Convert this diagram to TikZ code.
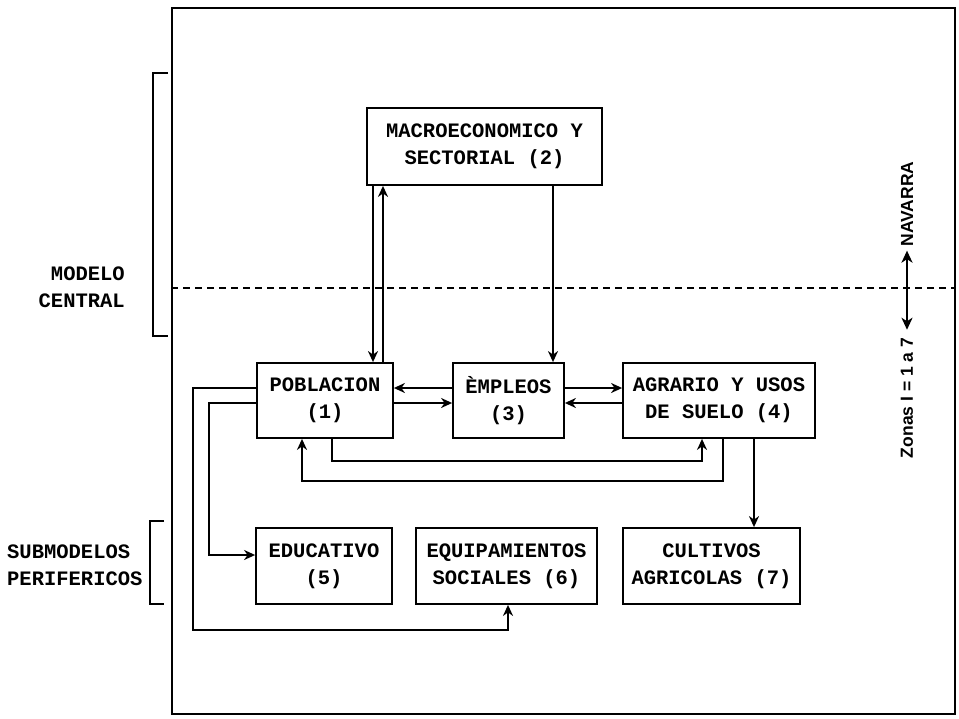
\documentclass[tikz,border=0pt]{standalone}
\usepackage{fontspec}
\newfontfamily\typew{Liberation Mono}
\newfontfamily\sanslab{Liberation Sans}
\usetikzlibrary{arrows.meta}
\begin{document}
\begin{tikzpicture}[x=1pt,y=-1pt,
  every node/.style={inner sep=0pt},
  tw/.style={font=\typew\bfseries\fontsize{20.5}{27}\selectfont},
  box/.style={draw, line width=1.8pt, tw, align=center, minimum height=75pt},
  conn/.style={line width=1.8pt, -{Stealth[length=11pt,width=10pt,inset=3.5pt]}},
  brk/.style={line width=1.8pt},
  dbl/.style={line width=2.8pt, {Stealth[length=12pt,width=11pt,inset=3.5pt]}-{Stealth[length=12pt,width=11pt,inset=3.5pt]}},
  side/.style={font=\sanslab\bfseries\fontsize{17.5}{20}\selectfont, rotate=90}
]
\useasboundingbox (0,0) rectangle (959,718);

% outer frame
\node[draw, line width=1.8pt, minimum width=783pt, minimum height=706pt] (frame) at (563.5,361) {};
\draw[line width=1.3pt, dash pattern=on 7pt off 5pt] (frame.west |- 0,288) -- (frame.east |- 0,288);

% boxes
\node[box, minimum width=235pt, minimum height=77pt] (mac) at (484.5,146.5) {MACROECONOMICO Y\\SECTORIAL (2)};
\node[box, minimum width=136pt] (pob) at (325,400.5) {POBLACION\\(1)};
\node[box, minimum width=111pt] (emp) at (508.5,400.5) {ÈMPLEOS\\(3)};
\node[box, minimum width=192pt] (agr) at (719,400.5) {AGRARIO Y USOS\\DE SUELO (4)};
\node[box, minimum width=136pt, minimum height=76pt] (edu) at (324,566) {EDUCATIVO\\(5)};
\node[box, minimum width=181pt, minimum height=76pt] (equ) at (506.5,566) {EQUIPAMIENTOS\\SOCIALES (6)};
\node[box, minimum width=177pt, minimum height=76pt] (cul) at (711.5,566) {CULTIVOS\\AGRICOLAS (7)};

% connectors
\draw[conn] (373,0 |- mac.south) -- (373,0 |- pob.north);
\draw[conn] (383,0 |- pob.north) -- (383,0 |- mac.south);
\draw[conn] (553,0 |- mac.south) -- (553,0 |- emp.north);
\draw[conn] (emp.west |- 0,388) -- (pob.east |- 0,388);
\draw[conn] (pob.east |- 0,403) -- (emp.west |- 0,403);
\draw[conn] (emp.east |- 0,388) -- (agr.west |- 0,388);
\draw[conn] (agr.west |- 0,403) -- (emp.east |- 0,403);
\draw[conn] (332,0 |- pob.south) |- (702,461) -- (702,0 |- agr.south);
\draw[conn] (723,0 |- agr.south) |- (302,481) -- (302,0 |- pob.south);
\draw[conn] (754,0 |- agr.south) -- (754,0 |- cul.north);
\draw[conn] (pob.west |- 0,403) -| (209,555) -- (edu.west |- 0,555);
\draw[conn] (pob.west |- 0,388) -| (193,630) -| (508,0 |- equ.south);

% brackets and side labels
\draw[brk] (168,73) -- (153,73) -- (153,336) -- (168,336);
\draw[brk] (164,521) -- (150,521) -- (150,604) -- (164,604);
\node[tw, anchor=east, align=right] (mc) at (125,287) {MODELO\\CENTRAL};
\node[tw, anchor=west, align=left] (sp) at (7,565) {SUBMODELOS\\PERIFERICOS};

% right side
\node[side] (nav) at (907,204) {NAVARRA};
\node[side] (zon) at (907,398) {Zonas I = 1 a 7};
\draw[dbl, shorten <=4pt, shorten >=8pt] (nav.west) -- (zon.east);
\end{tikzpicture}
\end{document}
